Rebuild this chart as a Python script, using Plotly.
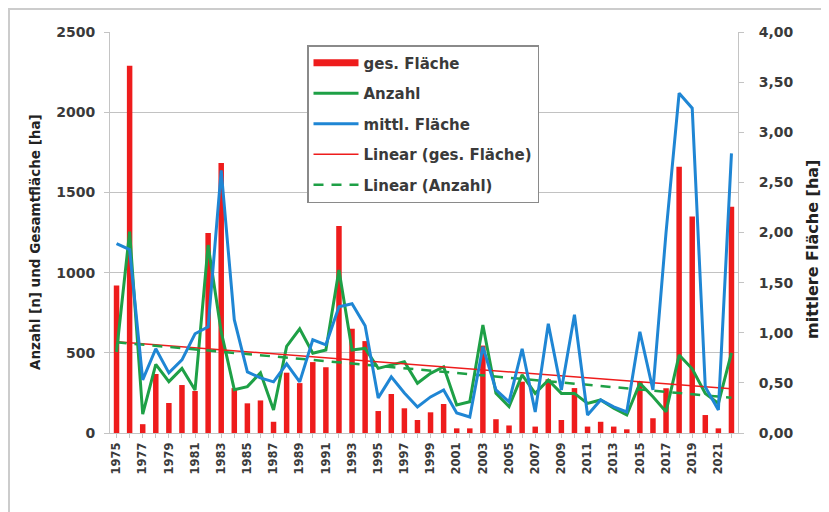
import numpy as np
import plotly.graph_objects as go

years = list(range(1975, 2023))

ges_flaeche = [920, 2290, 55, 368, 187, 299, 262, 1247, 1683, 280,
               185, 203, 70, 376, 311, 442, 410, 1290, 650, 573,
               137, 243, 154, 81, 129, 181, 29, 29, 545, 86,
               47, 320, 40, 335, 81, 280, 40, 70, 40, 23,
               320, 92, 279, 1660, 1349, 112, 29, 1411]

anzahl = [505, 1255, 118, 428, 320, 403, 268, 1172, 630, 270,
          289, 375, 143, 540, 650, 497, 517, 1016, 517, 528,
          403, 425, 445, 310, 372, 413, 175, 195, 673, 247,
          164, 362, 247, 330, 247, 247, 185, 206, 154, 112,
          310, 226, 133, 486, 400, 247, 185, 500]

mittl_flaeche = [1.89, 1.83, 0.53, 0.84, 0.60, 0.73, 0.99, 1.06, 2.62, 1.13,
                 0.61, 0.55, 0.51, 0.69, 0.51, 0.93, 0.88, 1.26, 1.29, 1.07,
                 0.35, 0.56, 0.40, 0.26, 0.36, 0.43, 0.20, 0.16, 0.86, 0.43,
                 0.31, 0.84, 0.21, 1.09, 0.43, 1.18, 0.18, 0.33, 0.26, 0.21,
                 1.01, 0.43, 2.00, 3.39, 3.24, 0.46, 0.23, 2.79]

left_ticks = [0, 500, 1000, 1500, 2000, 2500]
right_ticks = [0, 0.5, 1.0, 1.5, 2.0, 2.5, 3.0, 3.5, 4.0]
right_ticktext = ["0,00", "0,50", "1,00", "1,50", "2,00", "2,50", "3,00", "3,50", "4,00"]
x_ticks = list(range(1975, 2022, 2))

RED = "#ee1c1c"
GREEN = "#1ea046"
BLUE = "#1f86d4"
TXT = "#3a3a3a"
BOLD = "DejaVu Sans"

# page has an 8px body margin: the figure is sized/placed so the plot area
# lands on the reference pixels (plot area: x 110..738, y 32..433 on the page)
OFF = 8
W, H = 829 - OFF, 512 - OFF
PL, PR, PT, PB = 110 - OFF, 738 - OFF, 32 - OFF, 433 - OFF
PW, PH = PR - PL, PB - PT


def px_x(page_x):
    return (page_x - OFF - PL) / PW


def px_y(page_y):
    return (PB - (page_y - OFF)) / PH


# linear trends from the data
x_arr = np.array(years, dtype=float)
k1, d1 = np.polyfit(x_arr, np.array(ges_flaeche, dtype=float), 1)
k2, d2 = np.polyfit(x_arr, np.array(anzahl, dtype=float), 1)
trend_ges = list(k1 * x_arr + d1)
trend_anz = list(k2 * x_arr + d2)

fig = go.Figure()

fig.add_trace(go.Bar(x=years, y=ges_flaeche, width=0.42, marker=dict(color=RED, line=dict(width=0)),
                     name="ges. Fläche", showlegend=False, yaxis="y"))
# legend entry drawn as a thick red line like the original
fig.add_trace(go.Scatter(x=[None], y=[None], mode="lines", line=dict(color=RED, width=7),
                         name="ges. Fläche", legendgroup="g1"))
fig.add_trace(go.Scatter(x=years, y=anzahl, mode="lines", line=dict(color=GREEN, width=3),
                         name="Anzahl", legendgroup="g2", yaxis="y"))
fig.add_trace(go.Scatter(x=years, y=mittl_flaeche, mode="lines", line=dict(color=BLUE, width=3),
                         name="mittl. Fläche", legendgroup="g3", yaxis="y2"))
fig.add_trace(go.Scatter(x=years, y=trend_ges, mode="lines", line=dict(color=RED, width=1.5),
                         name="Linear (ges. Fläche)", legendgroup="g4", yaxis="y"))
fig.add_trace(go.Scatter(x=years, y=trend_anz, mode="lines", line=dict(color=GREEN, width=2.5, dash="10px,8px"),
                         name="Linear (Anzahl)", legendgroup="g5", yaxis="y"))

fig.update_layout(
    width=W, height=H,
    margin=dict(l=PL, r=W - PR, t=PT, b=H - PB, autoexpand=False),
    paper_bgcolor="white", plot_bgcolor="white",
    font=dict(family=BOLD, color=TXT),
    showlegend=True,
    legend=dict(
        x=px_x(307), y=px_y(45), xanchor="left", yanchor="top",
        bgcolor="white", bordercolor="#8a8a8a", borderwidth=1.5,
        font=dict(family=BOLD, size=15, color=TXT, weight="bold"),
        traceorder="grouped", tracegroupgap=8, itemwidth=45,
        entrywidth=200, entrywidthmode="pixels",
    ),
    xaxis=dict(
        range=[1974.5, 2022.5], tickmode="array", tickvals=x_ticks,
        ticktext=[str(v) for v in x_ticks], tickangle=-90,
        tickfont=dict(family=BOLD, size=11.5, color=TXT, weight="bold"),
        showgrid=False, showline=True, linecolor="#c4c4c4", linewidth=1,
        ticks="outside", ticklen=4, tickcolor="#c4c4c4",
        minor=dict(tickvals=years, ticks="outside", ticklen=4, tickcolor="#c4c4c4"),
        zeroline=False, automargin=False,
    ),
    yaxis=dict(
        range=[0, 2500], tickmode="array", tickvals=left_ticks,
        tickfont=dict(family=BOLD, size=14, color=TXT, weight="bold"),
        showgrid=True, gridcolor="#c2c2c2", gridwidth=1,
        showline=True, linecolor="#c4c4c4", ticks="outside", ticklen=5, tickcolor="#c4c4c4",
        ticklabelstandoff=6, zeroline=False, automargin=False,
    ),
    yaxis2=dict(
        range=[0, 4], overlaying="y", side="right", tickmode="array",
        tickvals=right_ticks, ticktext=right_ticktext,
        tickfont=dict(family=BOLD, size=14, color=TXT, weight="bold"),
        showgrid=False, showline=True, linecolor="#c4c4c4", ticks="outside", ticklen=5,
        tickcolor="#c4c4c4", ticklabelstandoff=12, zeroline=False, automargin=False,
    ),
    bargap=0.5,
)

# axis titles
fig.add_annotation(text="Anzahl [n] und Gesamtfläche [ha]", xref="paper", yref="paper",
                   x=px_x(35), y=px_y(242), textangle=-90, showarrow=False,
                   font=dict(family=BOLD, size=13.5, color="#222222", weight="bold"),
                   xanchor="center", yanchor="middle")
fig.add_annotation(text="mittlere Fläche [ha]", xref="paper", yref="paper",
                   x=px_x(812), y=px_y(250), textangle=-90, showarrow=False,
                   font=dict(family=BOLD, size=16, color="#222222", weight="bold"),
                   xanchor="center", yanchor="middle")

# outer frame of the original figure (left and top edges)
fig.add_shape(type="rect", xref="paper", yref="paper",
              x0=px_x(9), x1=px_x(900), y0=px_y(600), y1=px_y(9),
              line=dict(color="#cccccc", width=2), fillcolor="rgba(0,0,0,0)", layer="below")

fig.write_html("out.html")
